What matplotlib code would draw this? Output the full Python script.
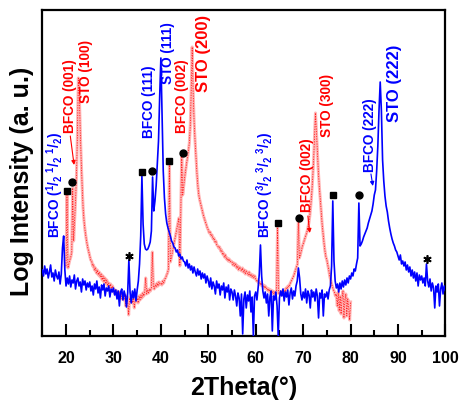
import numpy as np
import matplotlib
matplotlib.use('Agg')
import matplotlib.pyplot as plt
from matplotlib.ticker import MultipleLocator

plt.rcParams['font.family'] = ['Liberation Sans', 'DejaVu Sans']
plt.rcParams['font.weight'] = 'bold'
plt.rcParams['mathtext.fontset'] = 'custom'
plt.rcParams['mathtext.rm'] = 'Liberation Sans:bold'
plt.rcParams['mathtext.bf'] = 'Liberation Sans:bold'
plt.rcParams['mathtext.it'] = 'Liberation Sans:bold'

# ---------------- data (log intensity, arbitrary units) ----------------
# (111)-oriented film: 2theta from 15 to 100 deg, step 0.25 deg
blue_start, blue_step = 15.0, 0.25
blue_h = [
    66, 60, 70, 62, 67, 58, 64, 71, 59, 63, 55, 66, 60, 57, 64, 52, 62, 88, 100, 66,
    50, 58, 52, 60, 49, 56, 53, 61, 47, 55, 58, 50, 54, 44, 57, 51, 55, 46, 53, 49,
    54, 45, 50, 41, 52, 47, 55, 43, 49, 38, 51, 46, 52, 40, 48, 45, 50, 39, 47, 44,
    48, 41, 46, 37, 45, 30, 44, 47, 36, 45, 40, 29, 43, 76, 44, 33, 45, 38, 47, 35,
    46, 55, 72, 100, 160, 112, 92, 87, 86, 87, 90, 94, 105, 159, 125, 135, 150, 172, 195, 240,
    278, 220, 165, 138, 122, 113, 108, 104, 100, 95, 93, 89, 88, 84, 86, 80, 82, 77, 79, 75,
    74, 70, 76, 68, 72, 66, 70, 63, 69, 64, 60, 67, 61, 65, 57, 63, 58, 62, 53, 60,
    55, 49, 58, 47, 54, 50, 42, 55, 48, 52, 41, 50, 46, 53, 38, 49, 44, 51, 36, 47,
    44, 36, 46, 40, 30, 43, 38, 20, 42, 2, 37, 44, 28, 41, 35, 45, 24, 39, 0, 40,
    44, 36, 48, 62, 91, 60, 45, 38, 44, 33, 42, 20, 39, 45, 5, 40, 36, 44, 30, 0,
    38, 45, 40, 47, 35, 44, 39, 46, 31, 43, 48, 37, 45, 40, 50, 55, 68, 58, 42, 36,
    44, 38, 47, 33, 45, 41, 28, 46, 39, 44, 35, 47, 40, 18, 43, 38, 46, 20, 42, 39,
    44, 37, 46, 50, 70, 135, 75, 55, 48, 52, 44, 53, 47, 55, 49, 56, 51, 58, 53, 60,
    57, 63, 60, 67, 65, 72, 78, 133, 90, 92, 95, 99, 102, 105, 108, 113, 117, 121, 125, 132,
    141, 146, 165, 190, 226, 254, 225, 176, 155, 140, 130, 124, 115, 108, 102, 97, 93, 90, 86, 84,
    80, 76, 81, 72, 75, 70, 74, 66, 71, 64, 69, 60, 66, 58, 64, 55, 63, 50, 61, 56,
    60, 53, 58, 50, 72, 55, 49, 57, 45, 53, 48, 28, 50, 44, 52, 30, 47, 53, 42, 50,
    46,
]

# (001)-oriented film: 2theta from 20 to 80 deg, step 0.2 deg
red_start, red_step = 20.0, 0.2
red_h = [
    70, 141, 68, 72, 76, 79, 84, 148, 95, 115, 135, 160, 200, 258, 240, 205, 175, 150, 128, 115, 106, 99, 93, 88, 84,
    80, 76, 75, 70, 71, 66, 68, 63, 66, 61, 64, 59, 62, 56, 60, 54, 58, 52, 56, 50, 53, 48, 52, 46, 50,
    47, 43, 46, 41, 45, 40, 44, 38, 43, 37, 42, 36, 41, 30, 40, 35, 21, 38, 34, 39, 33, 38, 28, 37, 35,
    38, 33, 40, 36, 41, 38, 43, 40, 44, 58, 42, 46, 43, 47, 45, 48, 84, 50, 47, 51, 49, 53, 50, 54, 52,
    53, 51, 55, 53, 57, 58, 61, 63, 67, 176, 74, 78, 83, 88, 93, 98, 103, 108, 113, 118, 70, 128, 181, 141, 150,
    158, 165, 172, 178, 185, 193, 210, 245, 289, 245, 215, 196, 180, 163, 150, 141, 136, 132, 128, 124, 120, 117, 114, 111, 108,
    106, 103, 104, 100, 101, 97, 98, 94, 95, 91, 90, 88, 89, 85, 86, 82, 83, 79, 81, 77, 78, 75, 77, 74, 75,
    74, 71, 73, 70, 72, 68, 70, 66, 69, 67, 65, 68, 64, 66, 62, 65, 63, 61, 64, 60, 62, 59, 61, 58, 60,
    57, 55, 56, 53, 54, 51, 53, 50, 51, 48, 50, 47, 48, 45, 47, 44, 46, 43, 45, 42, 44, 41, 45, 108, 43,
    42, 44, 41, 45, 43, 46, 44, 48, 47, 50, 49, 52, 54, 56, 58, 60, 63, 66, 69, 72, 116, 78, 81, 85, 89,
    92, 95, 98, 101, 104, 108, 113, 120, 130, 142, 157, 175, 198, 223, 205, 185, 165, 150, 138, 125, 112, 102, 93, 85, 79,
    76, 71, 66, 60, 56, 52, 49, 46, 44, 40, 42, 30, 44, 25, 40, 22, 38, 45, 18, 36, 42, 20, 37, 28, 16,
    34,
]

# phase markers
square_2theta = [20.2, 36.0, 41.7, 64.7, 76.3]
square_h = [145, 164, 175, 113, 141]
circle_2theta = [21.3, 38.2, 44.6, 69.1, 81.8]
circle_h = [154, 165, 183, 118, 141]
star_2theta = [33.3, 96.1]
star_h = [80, 77]

# peak labels
frac1 = r'BFCO ($\mathrm{^1/_2\;^1/_2\;^1/_2}$)'
frac3 = r'BFCO ($\mathrm{^3/_2\;^3/_2\;^3/_2}$)'
label_text = [frac1, 'BFCO (001)', 'STO (100)', 'BFCO (111)', 'STO (111)', 'BFCO (002)',
              'STO (200)', frac3, 'BFCO (002)', 'STO (300)', 'BFCO (222)', 'STO (222)']
label_x = [17.7, 20.85, 24.3, 37.5, 41.5, 44.4, 48.9, 62.0, 70.8, 75.0, 84.1, 89.2]
label_y = [98, 203, 233, 198, 252, 203, 244, 98, 124, 199, 164, 214]
label_color = ['b', 'r', 'r', 'b', 'b', 'r', 'r', 'b', 'r', 'r', 'b', 'b']
label_size = [9.8, 9.8, 9.8, 9.8, 9.8, 9.8, 12, 9.8, 9.8, 9.8, 9.8, 12]

arrow_from = [(20.9, 200), (71.0, 120), (84.3, 162)]
arrow_to = [(21.7, 171), (71.4, 103), (84.7, 150)]
arrow_color = ['r', 'r', 'b']

colors = {'b': '#0000ff', 'r': '#ff0000'}

blue_2theta = blue_start + blue_step * np.arange(len(blue_h))
red_2theta = red_start + red_step * np.arange(len(red_h))

# ---------------- figure ----------------
fig = plt.figure(figsize=(4.61, 4.03), dpi=100)
ax = fig.add_axes([0.0918, 0.1663, 0.8744, 0.8089])

ax.plot(red_2theta, red_h, color='#ffb4b4', lw=2.2, solid_joinstyle='round', zorder=2)
ax.plot(red_2theta, red_h, color='#ff2020', lw=0.6, ls=(0, (1.5, 1.5)), zorder=3)
ax.plot(blue_2theta, blue_h, color='#0000ff', lw=1.2, zorder=4)

ax.plot(square_2theta, square_h, 's', color='black', ms=4.3, zorder=5)
ax.plot(circle_2theta, circle_h, 'o', color='black', ms=5.0, zorder=5)
ax.plot(star_2theta, star_h, marker=(6, 2, 0), ls='none', color='black', ms=6, mew=1.2, zorder=5)

for t, x, y, c, s in zip(label_text, label_x, label_y, label_color, label_size):
    ax.text(x, y, t, rotation=90, ha='center', va='bottom', color=colors[c],
            fontsize=s, fontweight='bold', zorder=6)

for a, b, c in zip(arrow_from, arrow_to, arrow_color):
    ax.annotate('', xy=b, xytext=a,
                arrowprops=dict(arrowstyle='-|>', color=colors[c], lw=0.8,
                                mutation_scale=6, shrinkA=0, shrinkB=0), zorder=6)

ax.set_xlim(15, 100)
ax.set_ylim(0, 326)
ax.xaxis.set_minor_locator(MultipleLocator(5))
ax.set_xticks([20, 30, 40, 50, 60, 70, 80, 90, 100])
ax.tick_params(axis='x', which='major', direction='in', length=8.6, width=1.5,
               labelsize=11.5, pad=11, top=False)
ax.tick_params(axis='x', which='minor', direction='in', length=4.5, width=1.5, top=False)
ax.tick_params(axis='y', which='both', left=False, right=False, labelleft=False)
for lbl in ax.get_xticklabels():
    lbl.set_fontweight('bold')
for sp in ax.spines.values():
    sp.set_linewidth(1.6)

fig.text(244 / 461, 1 - 388 / 403, '2Theta(°)', ha='center', va='center',
         fontsize=18, fontweight='bold')
fig.text(22 / 461, 1 - 181 / 403, 'Log Intensity (a. u.)', ha='center', va='center',
         rotation=90, fontsize=18, fontweight='bold')

fig.savefig('out.png', dpi=100)
